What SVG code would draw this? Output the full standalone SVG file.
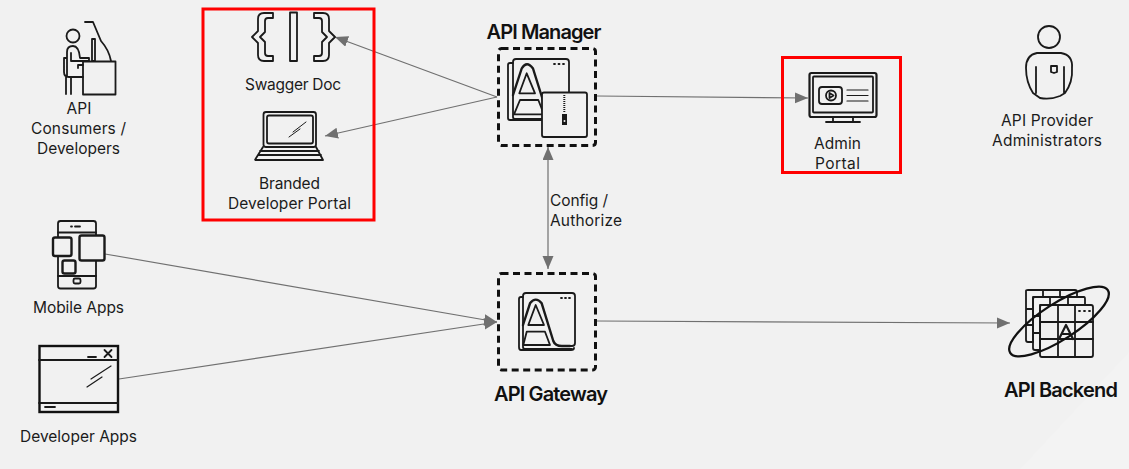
<svg xmlns="http://www.w3.org/2000/svg" width="1129" height="469" viewBox="0 0 1129 469">
<style>
.t{font-family:Inter,"Liberation Sans",sans-serif;font-size:15.500px;fill:#1b1b1b}
.b{font-family:Inter,"Liberation Sans",sans-serif;font-size:20px;font-weight:600;fill:#111}
.i{fill:none;stroke:#1a1a1a;stroke-width:1.800;stroke-linejoin:round;stroke-linecap:round}
.h{stroke-width:2.400}
.w{fill:#f1f1f1}
.c{fill:none;stroke:#707070;stroke-width:1.200}
.d{fill:none;stroke:#111;stroke-width:3;stroke-dasharray:7 4.500;stroke-linejoin:round}
.r{fill:none;stroke:#f00;stroke-width:3}
</style>
<defs>
<marker id="a" markerUnits="userSpaceOnUse" markerWidth="14" markerHeight="12" refX="13" refY="5.500" orient="auto-start-reverse"><path d="M0 0L13 5.500L0 11Z" fill="#707070"/></marker>
</defs>
<rect width="1129" height="469" fill="#f1f1f1"/>
<path d="M1129 352L1020 469H1129Z" fill="#f3f3f3"/>
<g id="connectors">
<path class="c" d="M497 97L335 37" marker-end="url(#a)"/>
<path class="c" d="M497 97L325 136" marker-end="url(#a)"/>
<path class="c" d="M597 96L808 98" marker-end="url(#a)"/>
<path class="c" d="M548 147V269" marker-start="url(#a)" marker-end="url(#a)"/>
<path class="c" d="M105 254L497 322" marker-end="url(#a)"/>
<path class="c" d="M119 379L497 322" marker-end="url(#a)"/>
<path class="c" d="M597 321L1010 323" marker-end="url(#a)"/>
</g>
<g id="api-consumers">
<circle class="i" cx="73" cy="36" r="6.500"/>
<path class="i" d="M85 22H93L101 41Q109 50 111 61M92 39H95V61H92Z"/>
<path class="i" d="M67 76V52Q67 46 73 46Q79 46 80 58H89V61H71V53M83 65H78V68M64 58V72Q64 77 69 77H83M66 77V94M71 77V94M64 58H67"/>
<rect class="i" x="83" y="61.500" width="32.500" height="33"/>
<text class="t" x="79" y="114" text-anchor="middle" textLength="25">API</text>
<text class="t" x="78.500" y="134" text-anchor="middle" textLength="95">Consumers /</text>
<text class="t" x="78.500" y="154" text-anchor="middle" textLength="83">Developers</text>
</g>
<g id="swagger-doc">
<path class="i" d="M273 13H264Q258 13 258 19V31L252 37L258 43V55Q258 61 264 61H273V56H268Q265 56 265 53V42L260 37L265 32V21Q265 18 268 18H273Z"/>
<rect class="i" x="290" y="12.500" width="7" height="48.500"/>
<path class="i" d="M314 13H323Q329 13 329 19V31L335 37L329 43V55Q329 61 323 61H314V56H319Q322 56 322 53V42L327 37L322 32V21Q322 18 319 18H314Z"/>
<text class="t" x="293" y="90" text-anchor="middle" textLength="96">Swagger Doc</text>
</g>
<g id="branded-developer-portal">
<rect class="i" x="263.500" y="112" width="52.500" height="35" rx="2.500"/>
<rect class="i" x="267" y="115.500" width="46" height="28" rx="2"/>
<path class="i" d="M263 147L255.500 159A0.500 0.500 0 0 0 256 160H323L316 147M260 151H319M258 155H321"/>
<path class="i" style="stroke-width:1" d="M293 132L306 122M289 137L300 129"/>
<text class="t" x="289.500" y="189" text-anchor="middle" textLength="61">Branded</text>
<text class="t" x="289.500" y="209" text-anchor="middle" textLength="123">Developer Portal</text>
</g>
<g id="highlights">
<rect class="r" x="203" y="9" width="171" height="211"/>
<rect class="r" x="782.500" y="57.500" width="118" height="115"/>
</g>
<g id="api-manager">
<rect class="d" x="498.500" y="48.500" width="97" height="97" rx="3"/>
<path class="i" d="M513 63H510Q508 63 508 65V118Q508 120 510 120H542"/>
<path class="i" d="M543 119H515Q513 119 513 117V62Q513 59 516 59H566Q569 59 569 62V92"/>
<path class="i h" d="M513 95L521.700 68.500Q526.700 60 533 68.500L546 110"/>
<path class="i" d="M526.700 73.300L535 93.300H519.300ZM520 100H538.300L544 114.300H514Z"/>
<path class="i" d="M554 64H555M558.500 64H559.500M563 64H564"/>
<rect class="i w" x="542" y="92.500" width="45" height="44.500" rx="2"/>
<path d="M564.300 95V113" stroke="#1a1a1a" stroke-width="2" stroke-dasharray="1 1"/>
<rect x="562" y="114" width="5" height="11" fill="#1a1a1a"/>
<circle cx="564.500" cy="121" r="1" fill="#f1f1f1"/>
<text class="b" x="544" y="39" text-anchor="middle" textLength="115">API Manager</text>
</g>
<g id="admin-portal">
<rect class="i" x="809.500" y="73" width="67" height="44" rx="2" style="stroke-width:2.200"/>
<rect class="i" x="813" y="76.500" width="60" height="36" rx="1"/>
<rect class="i" x="819" y="87" width="23" height="17" rx="3"/>
<circle class="i" cx="831" cy="95.500" r="5"/>
<path class="i" d="M829.500 93L833.500 95.500L829.500 98Z"/>
<path class="i" d="M847 90H868M847 95.500H868M847 101H868" style="stroke-width:1.200"/>
<path class="i" d="M833 117V121.500M853 117V121.500M826 122H860"/>
<text class="t" x="837.500" y="149" text-anchor="middle" textLength="47">Admin</text>
<text class="t" x="837.500" y="169" text-anchor="middle" textLength="45">Portal</text>
</g>
<g id="api-provider-administrators">
<circle class="i" cx="1049" cy="37" r="11"/>
<path class="i" d="M1037 53H1061Q1073 55 1072 68Q1073 82 1065 93L1060 96Q1050 100 1040 98L1033 93Q1026 82 1026 68Q1026 55 1037 53ZM1036 67V93M1064 67V93M1051 66H1057V72L1054 73L1051 72Z"/>
<text class="t" x="1047" y="126" text-anchor="middle" textLength="92">API Provider</text>
<text class="t" x="1047" y="146" text-anchor="middle" textLength="110">Administrators</text>
</g>
<g id="config-label">
<text class="t" x="550" y="206" textLength="58">Config /</text>
<text class="t" x="550" y="226" textLength="72">Authorize</text>
</g>
<g id="mobile-apps">
<rect class="i" x="58" y="221" width="38" height="67.500" rx="2.500"/>
<path class="i" d="M58 232.500H96M58 276H96M71 226.500H72M75 226.500H80"/>
<rect class="i" x="73.500" y="278.500" width="7" height="5" rx="1.500"/>
<rect class="i w h" x="53" y="237.500" width="18.500" height="18.500" rx="2"/>
<rect class="i w h" x="79.500" y="235.500" width="25" height="25" rx="2"/>
<rect class="i w h" x="62.500" y="260.500" width="13" height="13" rx="2"/>
<text class="t" x="78.500" y="313" text-anchor="middle" textLength="91">Mobile Apps</text>
</g>
<g id="developer-apps">
<rect x="39.500" y="346" width="78.500" height="66" fill="none" stroke="#111" stroke-width="2.400"/>
<path class="i" d="M39 360H118M39 403H118M88 357H96M104.500 350L111.500 357M111.500 350L104.500 357M45 407H55"/>
<path class="i" style="stroke-width:1.200" d="M91 379L111 366M87 387L102 377"/>
<text class="t" x="78.500" y="442" text-anchor="middle" textLength="117">Developer Apps</text>
</g>
<g id="api-gateway">
<rect class="d" x="498.500" y="273.500" width="97" height="96.500" rx="3"/>
<path class="i" d="M523 297H521Q519 297 519 299V347Q519 350 521 350H571Q574 350 574 348"/>
<path class="i" d="M525 349Q523 349 523 347V296Q523 293 526 293H572Q575 293 575 296V343Q575 346 572 346H568M525 349H572"/>
<path class="i h" d="M523 325L530 303.300Q535.700 296 541.700 303.300L553.300 341Q555 346 562 346H570"/>
<path class="i" d="M535.700 305L544 325H528.300ZM526.700 331.700H545L550 345H523.300Z"/>
<path class="i" d="M561 298H562M565 298H566M569 298H570"/>
<text class="b" x="551" y="400.500" text-anchor="middle" textLength="114">API Gateway</text>
</g>
<g id="api-backend">
<path class="i" d="M1026 291Q1026 290 1028 290H1075Q1077 290 1077 292V297H1033V342H1028Q1026 342 1026 340ZM1026 309H1033M1026 325H1033M1043 290V297M1060 290V297"/>
<path class="i" d="M1033 299Q1033 297 1035 297H1084Q1085 297 1085 299V305H1040V350H1035Q1033 350 1033 348ZM1033 316H1040M1033 333H1040M1050 297V305M1068 297V305"/>
<rect class="i" x="1040" y="305" width="53" height="52" rx="2"/>
<path class="i" d="M1040 322H1093M1040 339H1093M1058 305V357M1075 305V357M1079 311H1080M1084 311H1085M1089 311H1090"/>
<path class="i" style="stroke-width:2.200" d="M1059 339L1066 325L1073 339M1061.500 334H1070.500"/>
<ellipse cx="1059" cy="321.500" rx="58" ry="18" transform="rotate(-32.700 1059 321.500)" fill="none" stroke="#111" stroke-width="2.300"/>
<text class="b" x="1061" y="397" text-anchor="middle" textLength="114">API Backend</text>
</g>
</svg>
